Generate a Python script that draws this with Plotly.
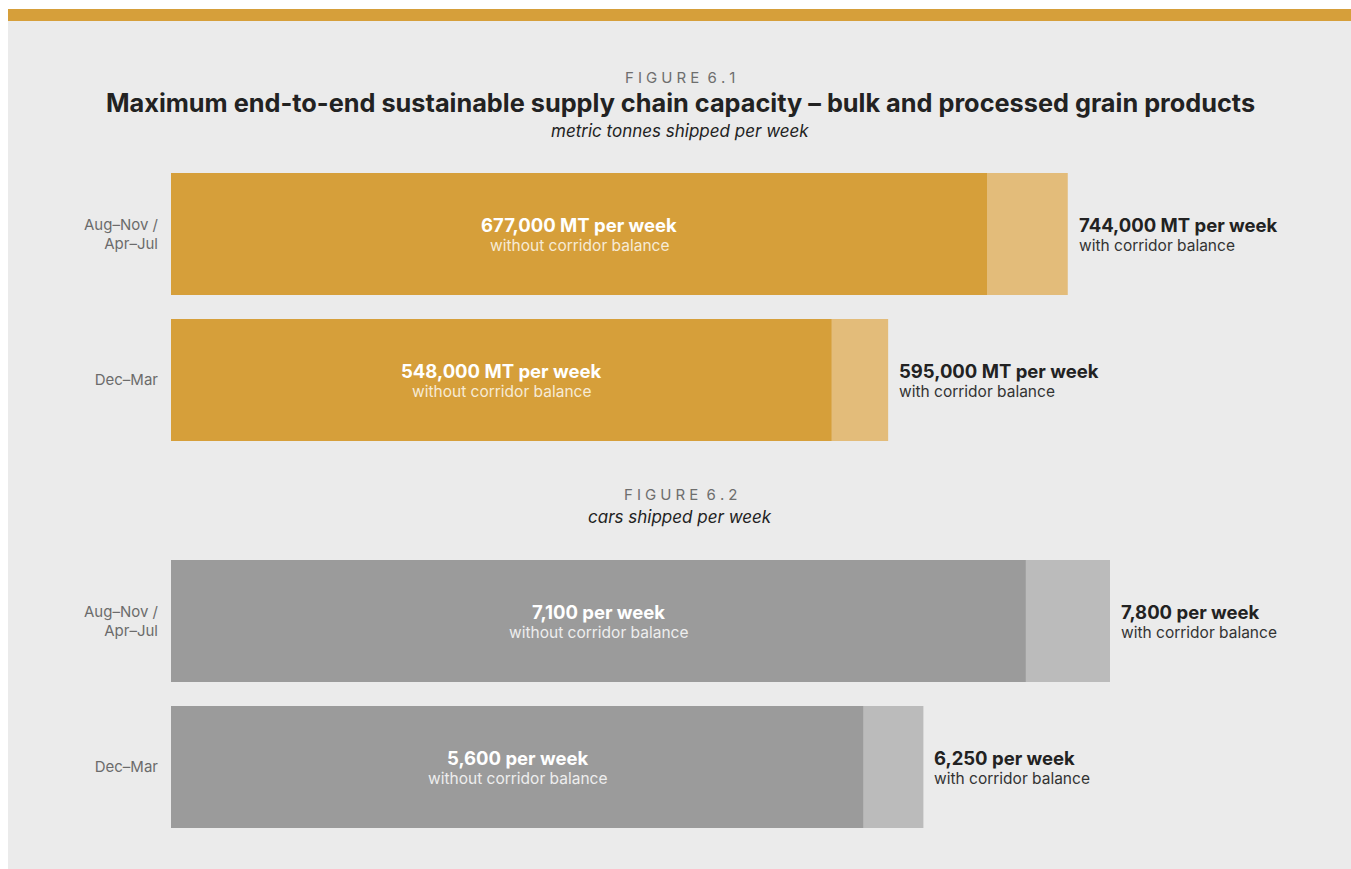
import plotly.graph_objects as go

# ---------------- data ----------------
categories = ["Aug–Nov /<br>Apr–Jul", "Dec–Mar"]
tonnes_without = [677000, 548000]
tonnes_with = [744000, 595000]
tonnes_without_lbl = ["677,000 MT per week", "548,000 MT per week"]
tonnes_with_lbl = ["744,000 MT per week", "595,000 MT per week"]

cars_without = [7100, 5750]          # bar lengths as drawn
cars_with = [7800, 6250]
cars_without_lbl = ["7,100 per week", "5,600 per week"]
cars_with_lbl = ["7,800 per week", "6,250 per week"]

sub_without = "without corridor balance"
sub_with = "with corridor balance"

# ---------------- styling / layout helpers ----------------
W, H = 1351, 869
FONT = "Inter"
GOLD, GOLD_L = "#D69F3A", "#E3BC7A"
GREY, GREY_L = "#9B9B9B", "#BBBBBB"
BG = "#EBEBEB"
DARK = "#222222"

def py(p):  # screen pixel y (from top) -> paper
    return 1 - p / H

def px(p):
    return p / W

x0_px = 171
bar_w = 122 / 146
ypos = [1, 0]

fig = go.Figure()

def add_panel(xa, ya, v_without, v_with, c_dark, c_light):
    fig.add_trace(go.Bar(x=v_with, y=ypos, orientation="h", marker_color=c_light,
                         marker_line_width=0, width=bar_w, xaxis=xa, yaxis=ya,
                         showlegend=False, hoverinfo="skip"))
    fig.add_trace(go.Bar(x=v_without, y=ypos, orientation="h", marker_color=c_dark,
                         marker_line_width=0, width=bar_w, xaxis=xa, yaxis=ya,
                         showlegend=False, hoverinfo="skip"))

add_panel("x", "y", tonnes_without, tonnes_with, GOLD, GOLD_L)
add_panel("x2", "y2", cars_without, cars_with, GREY, GREY_L)

annotations = []

def add_labels(xref, yref, v_without, v_with, lbl_without, lbl_with, inner_sub_color):
    for i, yv in enumerate(ypos):
        annotations.append(dict(x=v_without[i] / 2, y=yv, xref=xref, yref=yref,
                                text="<b>" + lbl_without[i] + "</b>", showarrow=False,
                                xanchor="center", yanchor="middle", yshift=9,
                                font=dict(family=FONT, size=18.5, color="white")))
        annotations.append(dict(x=v_without[i] / 2, y=yv, xref=xref, yref=yref,
                                text=sub_without, showarrow=False,
                                xanchor="center", yanchor="middle", yshift=-11,
                                font=dict(family=FONT, size=15.5, color=inner_sub_color)))
        annotations.append(dict(x=v_with[i], y=yv, xref=xref, yref=yref,
                                text="<b>" + lbl_with[i] + "</b>", showarrow=False,
                                xanchor="left", yanchor="middle", yshift=9, xshift=9,
                                font=dict(family=FONT, size=18.5, color=DARK)))
        annotations.append(dict(x=v_with[i], y=yv, xref=xref, yref=yref,
                                text=sub_with, showarrow=False,
                                xanchor="left", yanchor="middle", yshift=-11, xshift=9,
                                font=dict(family=FONT, size=15.5, color="#333333")))

add_labels("x", "y", tonnes_without, tonnes_with, tonnes_without_lbl, tonnes_with_lbl, "#F6EBD6")
add_labels("x2", "y2", cars_without, cars_with, cars_without_lbl, cars_with_lbl, "#EEEEEE")

def ptext(text, ypx, size, color, family=FONT):
    annotations.append(dict(x=px(680), y=py(ypx), xref="paper", yref="paper",
                            text=text, showarrow=False, xanchor="center", yanchor="middle",
                            font=dict(family=family, size=size, color=color)))

def spaced(s):
    gap = "\u2009\u200a"
    return gap.join(list(s)).replace(gap + " " + gap, gap * 2)

ptext(spaced("FIGURE 6.1"), 77, 15, "#6E6E6E")
ptext("<b>Maximum end-to-end sustainable supply chain capacity – bulk and processed grain products</b>",
      103, 25.3, DARK)
ptext("<i>metric tonnes shipped per week</i>", 131, 17, DARK)
ptext(spaced("FIGURE 6.2"), 494, 15, "#6E6E6E")
ptext("<i>cars shipped per week</i>", 517, 17, DARK)

R1 = tonnes_without[0] * (1351 - x0_px) / 816
R2 = cars_with[0] * (1351 - x0_px) / 939

axis_common = dict(showgrid=False, zeroline=False, showline=False, showticklabels=False,
                   fixedrange=True)
yaxis_common = dict(showgrid=False, zeroline=False, showline=False, tickvals=ypos,
                    ticktext=categories, ticks="", range=[-0.5, 1.5],
                    tickfont=dict(family=FONT, size=15, color="#6B6B6B"),
                    ticklabelstandoff=12, fixedrange=True)

fig.update_layout(
    width=W, height=H,
    margin=dict(l=0, r=0, t=0, b=0),
    paper_bgcolor="white", plot_bgcolor="rgba(0,0,0,0)",
    barmode="overlay",
    xaxis=dict(domain=[px(x0_px), 1], range=[0, R1], anchor="y", **axis_common),
    yaxis=dict(domain=[py(453), py(161)], anchor="x", **yaxis_common),
    xaxis2=dict(domain=[px(x0_px), 1], range=[0, R2], anchor="y2", **axis_common),
    yaxis2=dict(domain=[py(840), py(548)], anchor="x2", **yaxis_common),
    annotations=annotations,
    shapes=[
        dict(type="rect", xref="paper", yref="paper", x0=px(8), x1=1, y0=0, y1=py(20),
             fillcolor=BG, line_width=0, layer="below"),
        dict(type="rect", xref="paper", yref="paper", x0=px(8), x1=1, y0=py(21), y1=py(9),
             fillcolor=GOLD, line_width=0, layer="below"),
    ],
    font=dict(family=FONT),
)

fig.write_html(
    "out.html",
    config={"displayModeBar": False},
    post_script="document.body.style.margin='0';"
                "document.documentElement.style.overflow='hidden';",
)
